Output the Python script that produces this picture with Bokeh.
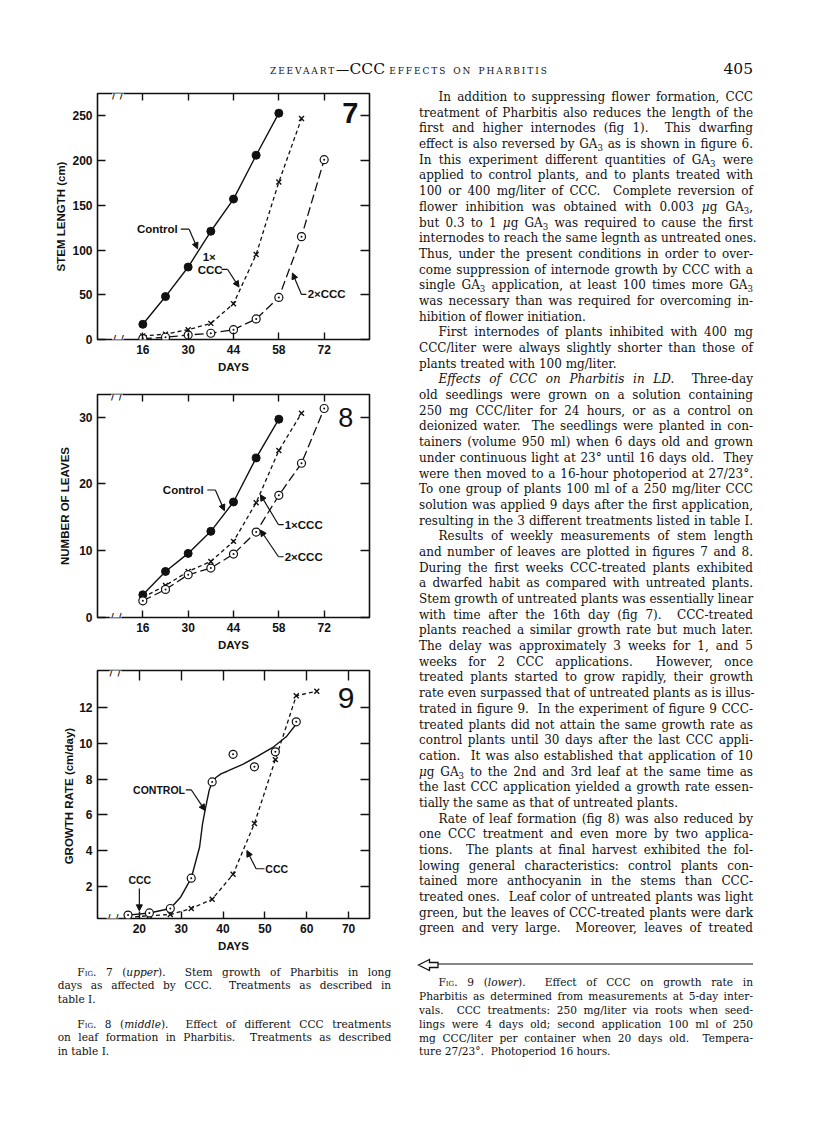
from bokeh.plotting import figure
from bokeh.models import LinearAxis, FixedTicker, Label, Arrow, NormalHead, Div, Range1d
from bokeh.layouts import column, row
from bokeh.embed import file_html
from bokeh.resources import INLINE

# ---------------- data ----------------
days_weekly = [16, 23, 30, 37, 44, 51, 58, 65, 72]
stem_control = [17, 48, 81, 121, 157, 206, 253]
stem_1x_ccc = [4, 6, 11, 18, 40, 95, 176, 247]
stem_2x_ccc = [1, 2.5, 5, 7, 11, 23, 47, 115, 201]

leaves_control = [3.4, 6.9, 9.6, 12.9, 17.3, 23.9, 29.7]
leaves_1x_ccc = [3.0, 4.8, 6.9, 8.4, 11.4, 17.2, 25.0, 30.6]
leaves_2x_ccc = [2.5, 4.2, 6.4, 7.4, 9.5, 12.8, 18.3, 23.1, 31.3]

days_5day = [17.3, 22.4, 27.4, 32.4, 37.4, 42.4, 47.5, 52.5, 57.5, 62.4]
rate_control = [0.38, 0.5, 0.75, 2.45, 7.85, 9.4, 8.7, 9.54, 11.22]
rate_ccc = [0.25, 0.35, 0.41, 0.75, 1.27, 2.67, 5.52, 9.1, 12.68, 12.94]
# hand-drawn control curve of fig 9
control_curve_days = [17.3, 22.4, 27.4, 29.9, 32.4, 34.4, 35.1, 35.7, 36.2, 36.7, 37.4,
                      38.3, 39.5, 41.0, 44.7, 48.4, 52.1, 55.1, 57.5]
control_curve_rate = [0.38, 0.5, 0.75, 1.4, 2.45, 4.2, 5.5, 6.26, 6.83, 7.39, 7.85,
                      8.1, 8.3, 8.45, 8.83, 9.31, 9.82, 10.38, 11.1]

ticks_days_weekly = [16, 30, 44, 58, 72]
ticks_stem = [0, 50, 100, 150, 200, 250]
ticks_leaves = [0, 10, 20, 30]
ticks_days_5day = [20, 30, 40, 50, 60, 70]
ticks_rate = [2, 4, 6, 8, 10, 12]

SANS = "Liberation Sans"
SERIF = "DejaVu Serif"
INK = "#111111"


def chart(width, height, xr, yr, mb, xticks, yticks, ylabel, tin, ylab_standoff):
    p = figure(width=width, height=height, x_range=Range1d(*xr), y_range=Range1d(*yr),
               x_axis_type=None, y_axis_type=None, output_backend="svg",
               toolbar_location=None, min_border_left=mb[0], min_border_right=mb[1],
               min_border_top=mb[2], min_border_bottom=mb[3])
    p.outline_line_color = INK
    p.outline_line_width = 1.6
    p.outline_line_alpha = 1.0
    p.background_fill_color = "white"
    p.border_fill_color = "white"
    common = dict(axis_line_color=None, major_tick_out=0, minor_tick_line_color=None,
                  major_tick_line_color=INK, major_tick_line_width=1.4)
    bottom = LinearAxis(ticker=FixedTicker(ticks=xticks), major_tick_in=tin[0],
                        axis_label="DAYS", axis_label_standoff=4, **common)
    left = LinearAxis(ticker=FixedTicker(ticks=yticks), major_tick_in=tin[1],
                      axis_label=ylabel, axis_label_standoff=ylab_standoff, **common)
    # frame ticks only (no labels painted) on the top and right sides
    top = LinearAxis(ticker=FixedTicker(ticks=xticks), major_tick_in=tin[2],
                     major_label_text_font_size="1px", major_label_text_color=None,
                     major_label_standoff=0, **common)
    right = LinearAxis(ticker=FixedTicker(ticks=yticks), major_tick_in=tin[3],
                       major_label_text_font_size="1px", major_label_text_color=None,
                       major_label_standoff=0, **common)
    for a in (bottom, left):
        a.major_label_text_font = SANS
        a.major_label_text_font_style = "bold"
        a.major_label_text_font_size = "12px"
        a.major_label_text_color = INK
        a.major_label_standoff = 5
        a.axis_label_text_font = SANS
        a.axis_label_text_font_style = "bold"
        a.axis_label_text_font_size = "11.5px"
        a.axis_label_text_color = INK
    p.add_layout(bottom, "below")
    p.add_layout(left, "left")
    p.add_layout(top, "above")
    p.add_layout(right, "right")
    return p


def label(p, x, y, text, align="center", size="11.5px", style="bold", font=SANS):
    p.add_layout(Label(x=x, y=y, text=text, text_align=align, text_baseline="middle",
                       text_font=font, text_font_size=size, text_font_style=style,
                       text_color=INK))


def leader(p, pts):
    for i in range(len(pts) - 1):
        last = i == len(pts) - 2
        head = NormalHead(size=6, fill_color=INK, line_color=INK, line_width=1) if last else None
        p.add_layout(Arrow(end=head, x_start=pts[i][0], y_start=pts[i][1],
                           x_end=pts[i + 1][0], y_end=pts[i + 1][1],
                           line_color=INK, line_width=1.2))


def axis_break(p, x, y):
    p.add_layout(Label(x=x, y=y, text="/ /", text_align="center", text_baseline="middle",
                       text_font="DejaVu Sans", text_font_size="12px", text_color=INK,
                       background_fill_color="white", background_fill_alpha=1.0))


# ---------------- Fig. 7 ----------------
p7 = chart(400, 292, (2, 86), (0, 275), (89, 39, 5, 41), ticks_days_weekly, ticks_stem,
           "STEM LENGTH (cm)", (7, 8, 7, 9), 2)
p7.line(days_weekly[:7], stem_control, line_color=INK, line_width=1.4)
p7.line(days_weekly[:8], stem_1x_ccc, line_color=INK, line_width=1.3, line_dash="4 3")
p7.line(days_weekly[:9], stem_2x_ccc, line_color=INK, line_width=1.3, line_dash="9 4")
p7.scatter(days_weekly[:7], stem_control, marker="circle", size=8, fill_color=INK, line_color=INK)
p7.scatter(days_weekly[:8], stem_1x_ccc, marker="x", size=7, line_color=INK, line_width=1.4)
p7.scatter(days_weekly[:9], stem_2x_ccc, marker="circle_dot", size=8, fill_color="white",
           line_color=INK, line_width=1.2)
label(p7, 26.8, 123.5, "Control", align="right")
leader(p7, [(27.7, 123.3), (30.3, 123.3), (32.9, 101.4)])
label(p7, 36.5, 92.3, "1×")
label(p7, 36.8, 78.1, "CCC")
leader(p7, [(40.3, 78.3), (42.2, 78.3), (45.7, 58.6)])
label(p7, 66.9, 50.4, "2×CCC", align="left")
leader(p7, [(66.5, 50.4), (65.0, 50.4), (62.2, 74.3)])
label(p7, 80.1, 252.7, "7", size="29px", style="bold")
axis_break(p7, 8.3, 0)
axis_break(p7, 8.3, 275)

# ---------------- Fig. 8 ----------------
p8 = chart(400, 278, (2, 86), (0, 33.4), (89, 39, 14, 41), ticks_days_weekly, ticks_leaves,
           "NUMBER OF LEAVES", (7, 8, 7, 9), 5)
p8.line(days_weekly[:7], leaves_control, line_color=INK, line_width=1.4)
p8.line(days_weekly[:8], leaves_1x_ccc, line_color=INK, line_width=1.3, line_dash="4 3")
p8.line(days_weekly[:9], leaves_2x_ccc, line_color=INK, line_width=1.3, line_dash="9 4")
p8.scatter(days_weekly[:7], leaves_control, marker="circle", size=8, fill_color=INK, line_color=INK)
p8.scatter(days_weekly[:8], leaves_1x_ccc, marker="x", size=7, line_color=INK, line_width=1.4)
p8.scatter(days_weekly[:9], leaves_2x_ccc, marker="circle_dot", size=8, fill_color="white",
           line_color=INK, line_width=1.2)
label(p8, 34.8, 19.1, "Control", align="right")
leader(p8, [(35.9, 19.1), (38.4, 19.1), (41.2, 16.0)])
label(p8, 59.8, 13.9, "1×CCC", align="left")
leader(p8, [(59.5, 13.9), (57.9, 13.9), (52.3, 18.4)])
label(p8, 59.8, 9.1, "2×CCC", align="left")
leader(p8, [(59.5, 9.1), (57.9, 9.1), (52.3, 13.1)])
label(p8, 78.7, 29.95, "8", size="27px", style="normal")
axis_break(p8, 7.6, 0)
axis_break(p8, 8.0, 33.4)

# ---------------- Fig. 9 ----------------
p9 = chart(400, 304, (10, 75), (0.19, 14.1), (89, 17, 12, 44), ticks_days_5day, ticks_rate,
           "GROWTH  RATE (cm/day)", (7, 10, 10, 9), 1)
p9.line(control_curve_days, control_curve_rate, line_color=INK, line_width=1.4)
p9.line(days_5day, rate_ccc, line_color=INK, line_width=1.3, line_dash="4 3")
p9.scatter(days_5day, rate_ccc, marker="x", size=7, line_color=INK, line_width=1.4)
p9.scatter(days_5day[:9], rate_control, marker="circle_dot", size=8, fill_color="white",
           line_color=INK, line_width=1.2)
label(p9, 30.9, 7.41, "CONTROL", align="right", size="10.5px")
leader(p9, [(31.1, 7.41), (32.4, 7.41), (35.7, 6.25)])
label(p9, 50.1, 2.98, "CCC", align="left", size="10.5px")
leader(p9, [(49.9, 2.98), (47.9, 2.98), (45.7, 4.0)])
label(p9, 20.1, 2.36, "CCC", size="10.5px")
leader(p9, [(20.0, 1.87), (20.0, 0.62)])
label(p9, 69.4, 12.58, "9", size="30px", style="normal")
axis_break(p9, 13.6, 0.19)
axis_break(p9, 14.3, 14.1)

# ---------------- text ----------------
SUB3 = '<span style="font-size:0.72em;vertical-align:-0.3em;line-height:0">3</span>'
GA3 = "GA" + SUB3
MU = "<i>μ</i>"
SC = '<span style="font-variant:small-caps">Fig.</span>'
SP = "&nbsp; "

body_paragraphs = [
    ["In addition to suppressing flower formation, CCC",
     "treatment of Pharbitis also reduces the length of the",
     "first and higher internodes (fig 1)." + SP + "This dwarfing",
     "effect is also reversed by " + GA3 + " as is shown in figure 6.",
     "In this experiment different quantities of " + GA3 + " were",
     "applied to control plants, and to plants treated with",
     "100 or 400 mg/liter of CCC." + SP + "Complete reversion of",
     "flower inhibition was obtained with 0.003 " + MU + "g " + GA3 + ",",
     "but 0.3 to 1 " + MU + "g " + GA3 + " was required to cause the first",
     "internodes to reach the same legnth as untreated ones.",
     "Thus, under the present conditions in order to over-",
     "come suppression of internode growth by CCC with a",
     "single " + GA3 + " application, at least 100 times more " + GA3,
     "was necessary than was required for overcoming in-",
     "hibition of flower initiation."],
    ["First internodes of plants inhibited with 400 mg",
     "CCC/liter were always slightly shorter than those of",
     "plants treated with 100 mg/liter."],
    ["<i>Effects of CCC on Pharbitis in LD.</i>" + SP + "Three-day",
     "old seedlings were grown on a solution containing",
     "250 mg CCC/liter for 24 hours, or as a control on",
     "deionized water." + SP + "The seedlings were planted in con-",
     "tainers (volume 950 ml) when 6 days old and grown",
     "under continuous light at 23° until 16 days old." + SP + "They",
     "were then moved to a 16-hour photoperiod at 27/23°.",
     "To one group of plants 100 ml of a 250 mg/liter CCC",
     "solution was applied 9 days after the first application,",
     "resulting in the 3 different treatments listed in table I.|J"],
    ["Results of weekly measurements of stem length",
     "and number of leaves are plotted in figures 7 and 8.",
     "During the first weeks CCC-treated plants exhibited",
     "a dwarfed habit as compared with untreated plants.",
     "Stem growth of untreated plants was essentially linear",
     "with time after the 16th day (fig 7)." + SP + "CCC-treated",
     "plants reached a similar growth rate but much later.",
     "The delay was approximately 3 weeks for 1, and 5",
     "weeks for 2 CCC applications." + SP + "However, once",
     "treated plants started to grow rapidly, their growth",
     "rate even surpassed that of untreated plants as is illus-",
     "trated in figure 9." + SP + "In the experiment of figure 9 CCC-",
     "treated plants did not attain the same growth rate as",
     "control plants until 30 days after the last CCC appli-",
     "cation." + SP + "It was also established that application of 10",
     MU + "g " + GA3 + " to the 2nd and 3rd leaf at the same time as",
     "the last CCC application yielded a growth rate essen-",
     "tially the same as that of untreated plants."],
    ["Rate of leaf formation (fig 8) was also reduced by",
     "one CCC treatment and even more by two applica-",
     "tions." + SP + "The plants at final harvest exhibited the fol-",
     "lowing general characteristics: control plants con-",
     "tained more anthocyanin in the stems than CCC-",
     "treated ones." + SP + "Leaf color of untreated plants was light",
     "green, but the leaves of CCC-treated plants were dark",
     "green and very large." + SP + "Moreover, leaves of treated|J"],
]

caption_left = [
    [SC + " 7 (<i>upper</i>)." + SP + "Stem growth of Pharbitis in long",
     "days as affected by CCC." + SP + "Treatments as described in",
     "table I."],
    [SC + " 8 (<i>middle</i>)." + SP + "Effect of different CCC treatments",
     "on leaf formation in Pharbitis." + SP + "Treatments as described",
     "in table I."],
]

caption_right = [
    [SC + " 9 (<i>lower</i>)." + SP + "Effect of CCC on growth rate in",
     "Pharbitis as determined from measurements at 5-day inter-",
     "vals." + SP + "CCC treatments: 250 mg/liter via roots when seed-",
     "lings were 4 days old; second application 100 ml of 250",
     "mg CCC/liter per container when 20 days old." + SP + "Tempera-",
     "ture 27/23°." + SP + "Photoperiod 16 hours."],
]


def paragraphs_html(paras, lh, indent, gap=0.0):
    out = []
    for pi, para in enumerate(paras):
        for li, ln in enumerate(para):
            force = ln.endswith("|J")
            if force:
                ln = ln[:-2]
            last = (li == len(para) - 1) and not force
            pad = indent if li == 0 else 0
            mt = gap if (li == 0 and pi > 0) else 0
            out.append(
                f'<div style="height:{lh}px;line-height:{lh}px;white-space:nowrap;'
                f'text-align:justify;text-align-last:{"left" if last else "justify"};'
                f'padding-left:{pad}px;margin-top:{mt}px">{ln}</div>')
    return "".join(out)


header_html = (
    f'<div style="position:relative;width:800px;height:80px;font-family:\'{SERIF}\';color:{INK}">'
    '<div style="position:absolute;left:262px;top:52px;line-height:18px;white-space:nowrap;font-size:13.3px">'
    '<span style="font-variant:small-caps;letter-spacing:1.9px">zeevaart</span>—'
    '<span style="font-size:15.5px">CCC</span> '
    '<span style="font-variant:small-caps;letter-spacing:1.9px">effects on pharbitis</span></div>'
    '<div style="position:absolute;left:672px;width:73px;top:52px;line-height:18px;'
    'text-align:right;font-size:15.5px">405</div></div>')

arrow_svg = (
    '<svg style="position:absolute;left:9px;top:870px" width="340" height="14">'
    f'<polygon points="1.5,7 12.5,1.5 12.5,4.5 21,4.5 21,9.5 12.5,9.5 12.5,12.5" '
    f'fill="white" stroke="{INK}" stroke-width="1.3"/>'
    f'<line x1="21" y1="6" x2="336" y2="6" stroke="{INK}" stroke-width="1"/></svg>')

right_html = (
    f'<div style="position:relative;width:400px;height:974px;font-family:\'{SERIF}\';color:{INK}">'
    '<div style="position:absolute;left:11px;top:2px;width:334px;font-size:12px">'
    + paragraphs_html(body_paragraphs, 15.69, 19.5) + '</div>'
    + arrow_svg +
    '<div style="position:absolute;left:11px;top:888.4px;width:334px;font-size:10.6px">'
    + paragraphs_html(caption_right, 13.8, 19.5) + '</div></div>')

left_caption_html = (
    f'<div style="position:relative;width:400px;height:100px;font-family:\'{SERIF}\';color:{INK}">'
    '<div style="position:absolute;left:49.7px;top:3.5px;width:333.5px;font-size:10.6px">'
    + paragraphs_html(caption_left, 13.6, 19.6, gap=11.4) + '</div></div>')

header = Div(text=header_html, width=800, height=80, margin=0)
right_div = Div(text=right_html, width=400, height=974, margin=0)
cap_div = Div(text=left_caption_html, width=400, height=100, margin=0)

left_col = column(p7, p8, p9, cap_div, spacing=0)
page = column(header, row(left_col, right_div, spacing=0), spacing=0, margin=(8, 0, 0, 8))

open("out.html", "w").write(file_html(page, INLINE))
